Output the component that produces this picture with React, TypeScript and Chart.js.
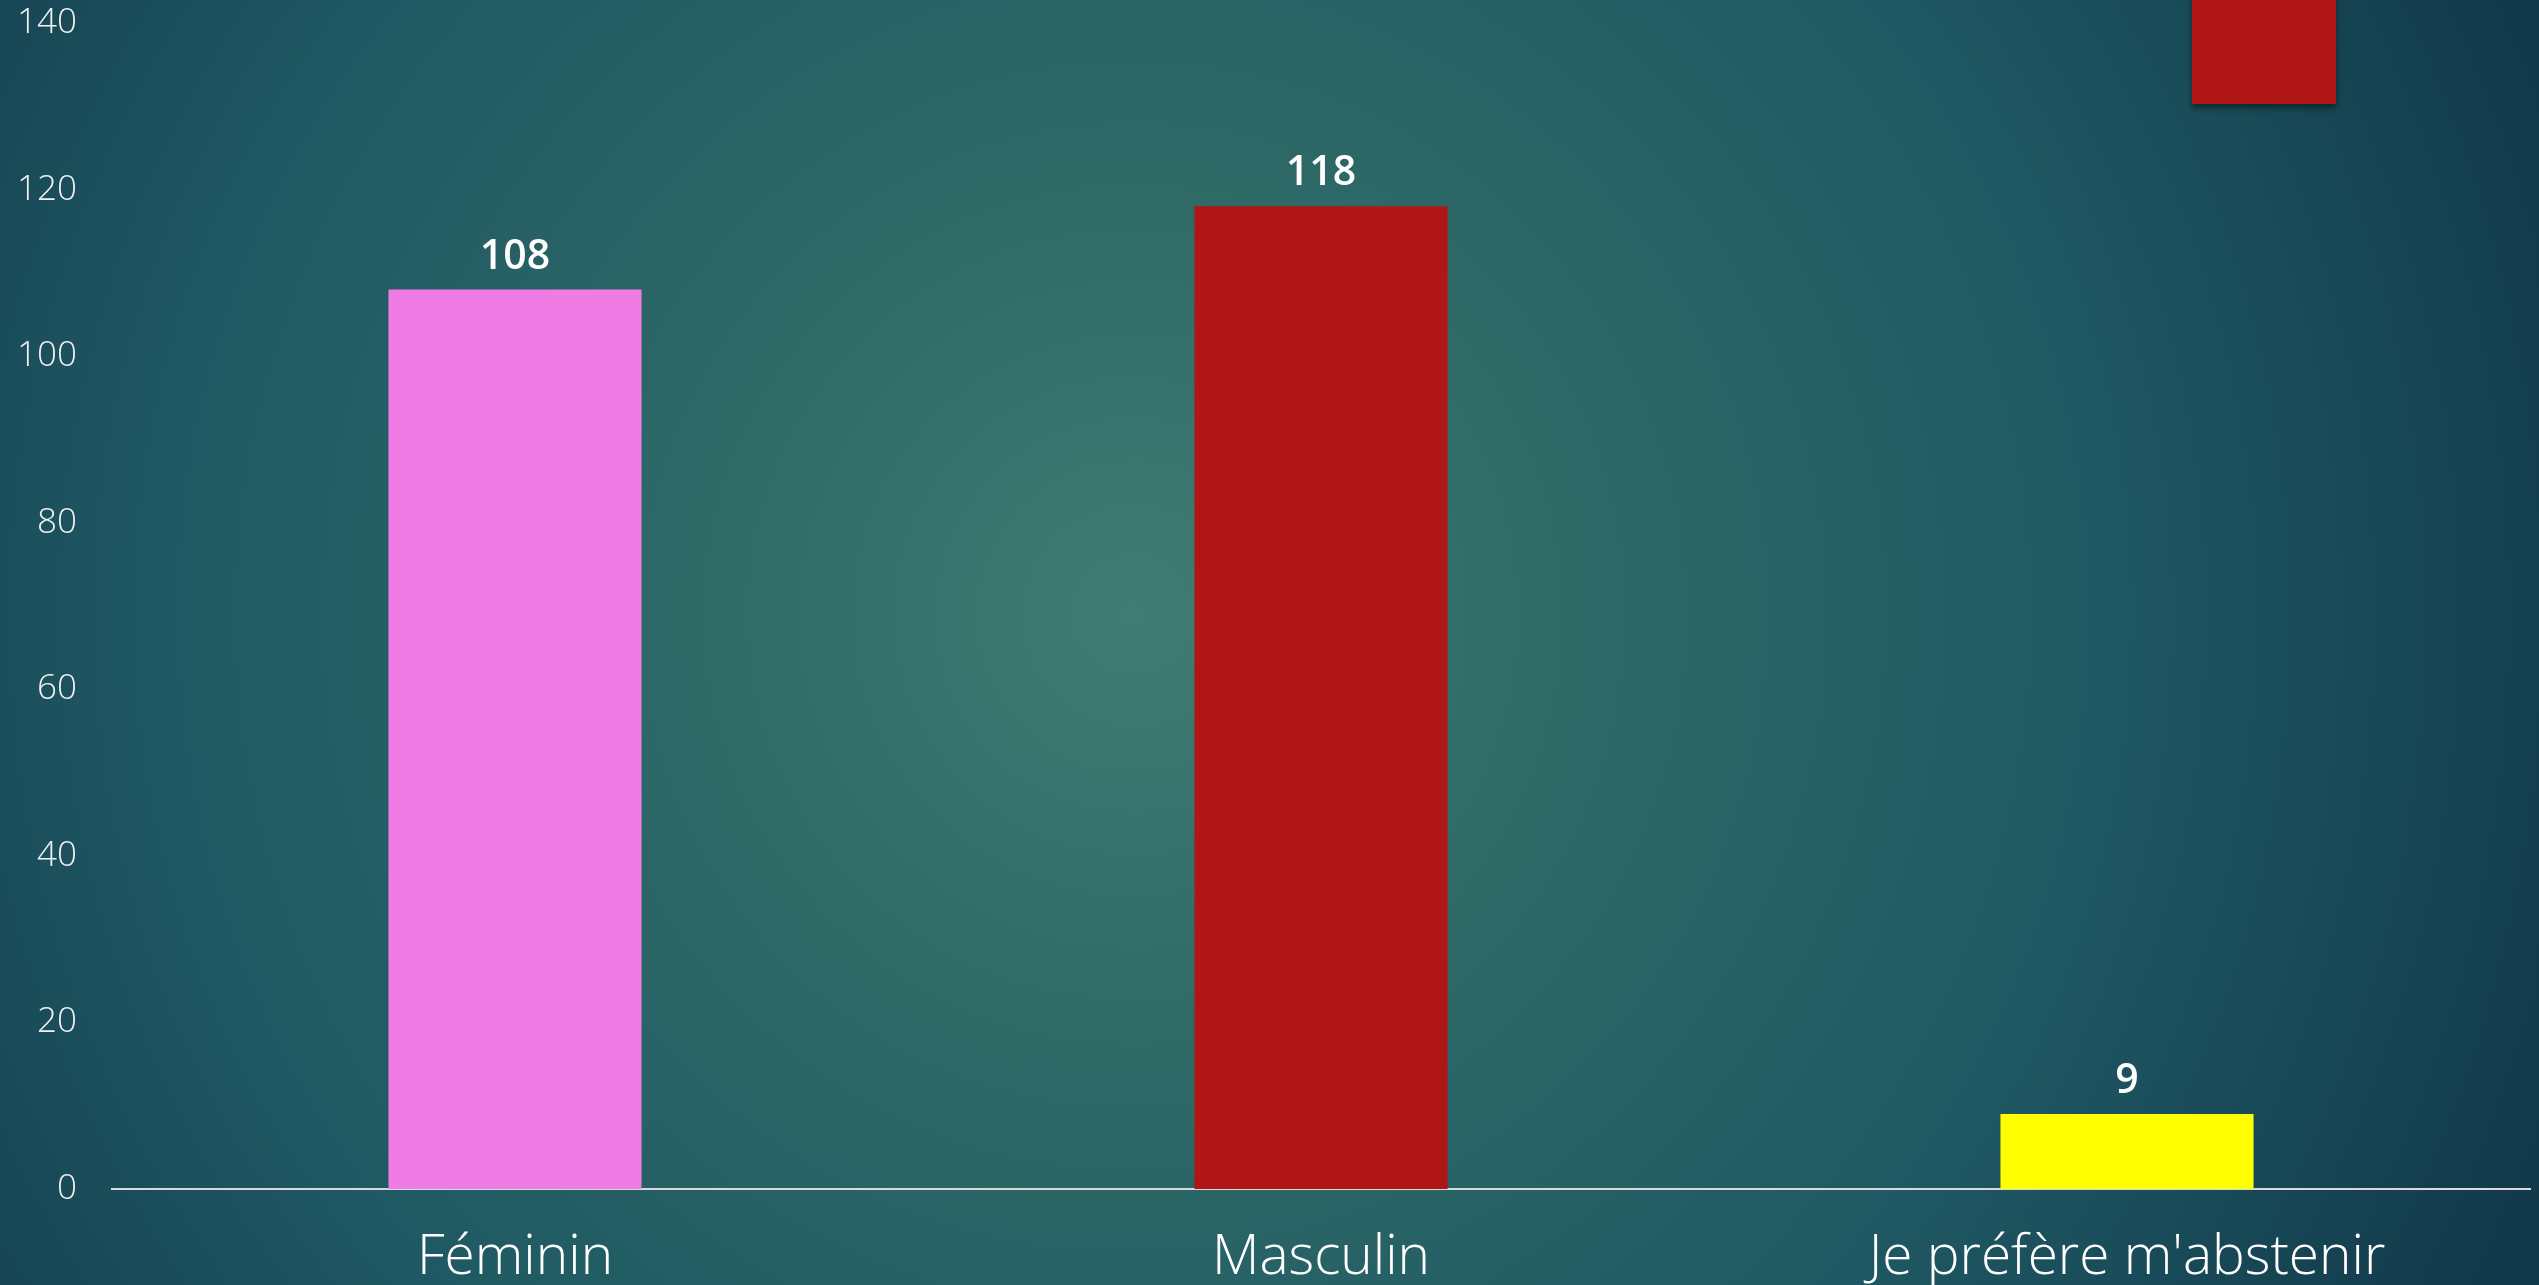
import React, { useEffect, useRef } from "react";
import { Chart, registerables } from "chart.js";

Chart.register(...registerables);

const categories = ["Féminin", "Masculin", "Je préfère m'abstenir"];
const values = [108, 118, 9];
const barColors = ["#ee7ce4", "#b01615", "#ffff00"];
const yTicks = [0, 20, 40, 60, 80, 100, 120, 140];

const valueLabelPlugin = {
  id: "valueLabels",
  afterDatasetsDraw(chart: any) {
    const ctx = chart.ctx;
    const meta = chart.getDatasetMeta(0);
    ctx.save();
    ctx.fillStyle = "#ffffff";
    ctx.font = "600 41px 'Open Sans', sans-serif";
    ctx.textAlign = "center";
    ctx.textBaseline = "alphabetic";
    meta.data.forEach((bar: any, i: number) => {
      ctx.fillText(String(values[i]), bar.x, bar.y - 21);
    });
    ctx.restore();
  },
};

export default function App() {
  const ref = useRef<HTMLCanvasElement | null>(null);
  useEffect(() => {
    if (!ref.current) return;
    const chart = new Chart(ref.current, {
      type: "bar",
      data: {
        labels: categories,
        datasets: [
          {
            data: values,
            backgroundColor: barColors,
            borderWidth: 0,
            categoryPercentage: 1,
            barPercentage: 0.314,
          },
        ],
      },
      options: {
        animation: false,
        responsive: false,
        maintainAspectRatio: false,
        layout: { padding: { top: 23, right: 9, left: 0, bottom: 0 } },
        plugins: { legend: { display: false }, tooltip: { enabled: false } },
        scales: {
          x: {
            grid: { display: false, drawTicks: false },
            border: { display: true, color: "#d9d9d9", width: 2 },
            ticks: {
              color: "#ffffff",
              font: { family: "'Open Sans', sans-serif", size: 55, weight: "300" },
              padding: 36,
              maxRotation: 0,
              autoSkip: false,
            },
            afterFit: (s: any) => {
              s.height = 96;
              s.paddingLeft = 0;
              s.paddingRight = 0;
            },
          },
          y: {
            min: 0,
            max: 140,
            afterBuildTicks: (s: any) => {
              s.ticks = yTicks.map((v) => ({ value: v }));
            },
            grid: { display: false, drawTicks: false },
            border: { display: false },
            ticks: {
              color: "#f2f2f2",
              font: { family: "'Open Sans', sans-serif", size: 35, weight: "300" },
              padding: 35,
            },
            afterFit: (s: any) => {
              s.width = 112;
              s.paddingTop = 0;
              s.paddingBottom = 0;
            },
          },
        },
      },
      plugins: [valueLabelPlugin],
    });
    return () => chart.destroy();
  }, []);

  return (
    <div
      style={{
        position: "fixed",
        left: 0,
        top: 0,
        width: 2539,
        height: 1285,
        overflow: "hidden",
        background:
          "radial-gradient(circle at 1133px 615px, #3f7d73 0px, #2f6a67 420px, #1f5963 950px, #123a4b 1500px)",
      }}
    >
      <div
        style={{
          position: "absolute",
          left: 2192,
          top: -10,
          width: 144,
          height: 114,
          background: "#b01615",
          boxShadow: "0 4px 6px rgba(0,0,0,0.45)",
        }}
      />
      <canvas
        ref={ref}
        width={2539}
        height={1285}
        style={{ position: "absolute", left: 0, top: 0, width: 2539, height: 1285 }}
      />
    </div>
  );
}
